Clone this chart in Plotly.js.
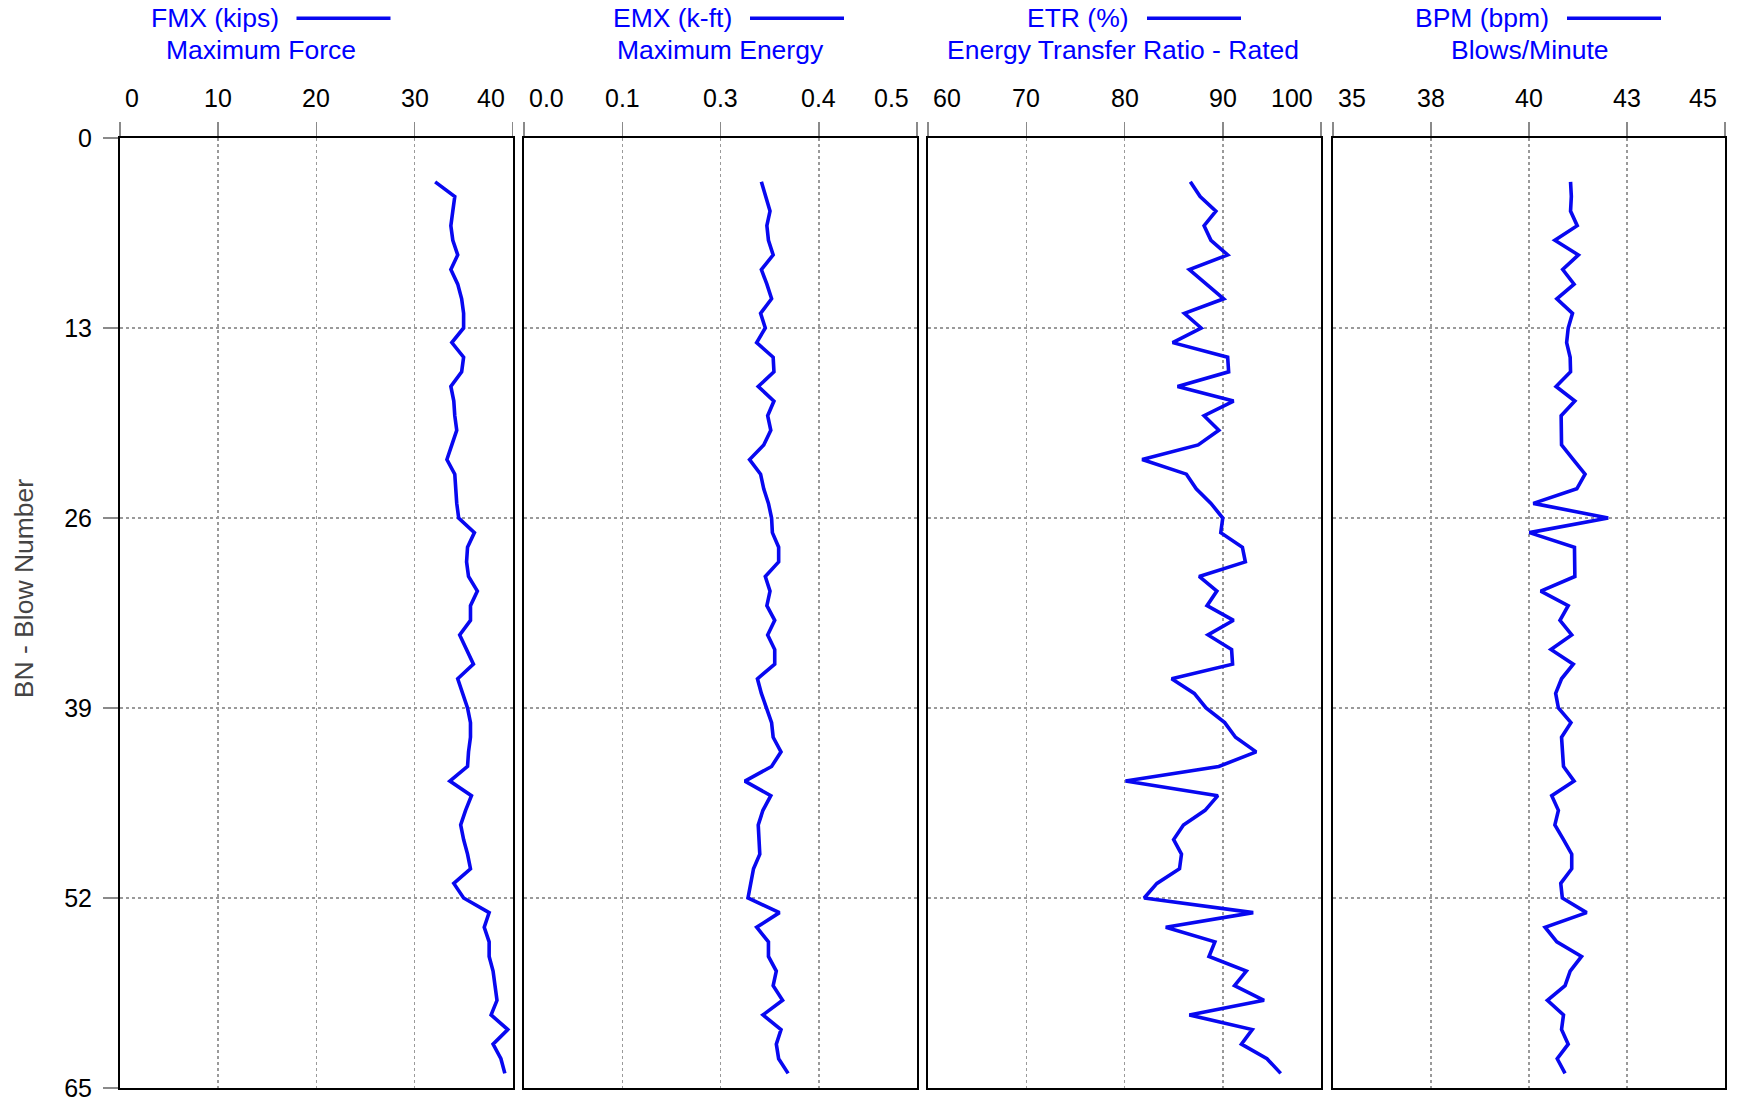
<!DOCTYPE html>
<html>
<head>
<meta charset="utf-8">
<script src="https://cdn.plot.ly/plotly-3.0.1.min.js"></script>
<style>html,body{margin:0;padding:0;background:#fff;}#chart{width:1739px;height:1101px;}</style>
</head>
<body>
<div id="chart"></div>
<script>
// ---- data ----
var blowNumber = [3,4,5,6,7,8,9,10,11,12,13,14,15,16,17,18,19,20,21,22,23,24,25,26,27,28,29,30,31,32,33,34,35,36,37,38,39,40,41,42,43,44,45,46,47,48,49,50,51,52,53,54,55,56,57,58,59,60,61,62,63,64];
var fmx = [32.1,34.1,33.9,33.7,33.9,34.4,33.7,34.4,34.8,35.0,35.0,33.8,35.0,34.8,33.7,34.0,34.1,34.3,33.8,33.3,34.1,34.2,34.3,34.5,36.1,35.4,35.3,35.5,36.4,35.7,35.7,34.6,35.3,36.0,34.4,34.9,35.4,35.7,35.7,35.5,35.4,33.6,35.8,35.2,34.7,35.0,35.4,35.7,34.0,35.0,37.6,37.1,37.6,37.6,38.0,38.2,38.4,37.8,39.5,38.0,38.8,39.2];
var emx = [0.302,0.307,0.313,0.309,0.311,0.317,0.302,0.309,0.315,0.301,0.307,0.296,0.317,0.318,0.298,0.318,0.310,0.314,0.305,0.287,0.301,0.305,0.311,0.315,0.316,0.324,0.324,0.307,0.313,0.309,0.319,0.310,0.319,0.319,0.297,0.302,0.308,0.315,0.317,0.327,0.315,0.281,0.314,0.304,0.298,0.299,0.300,0.292,0.288,0.285,0.325,0.296,0.311,0.311,0.321,0.317,0.329,0.304,0.327,0.321,0.324,0.336];
var etr = [86.7,87.7,89.3,88.1,88.8,90.5,86.6,88.3,90.1,86.1,87.8,84.9,90.5,90.6,85.4,91.1,88.1,89.6,87.5,81.8,86.3,87.3,88.8,90.0,89.8,92.0,92.3,87.6,89.4,88.4,91.1,88.5,90.9,91.0,84.8,87.1,88.3,90.2,91.3,93.4,89.6,80.1,89.5,88.2,86.0,85.0,85.8,85.6,83.3,82.0,93.1,84.2,89.2,88.6,92.4,91.2,94.2,86.6,93.0,91.9,94.5,95.9];
var bpm = [41.06,41.08,41.06,41.23,40.66,41.26,40.86,41.15,40.71,41.11,41.00,40.96,41.05,41.06,40.69,41.17,40.82,40.82,40.83,41.13,41.43,41.22,40.11,42.02,40.01,41.16,41.16,41.17,40.30,41.00,40.79,41.09,40.56,41.13,40.83,40.68,40.75,41.07,40.83,40.85,40.88,41.15,40.58,40.75,40.66,40.88,41.09,41.09,40.81,40.85,41.47,40.41,40.71,41.34,41.05,40.92,40.47,40.88,40.83,41.00,40.72,40.92];

var seriesNames = ['FMX (kips)', 'EMX (k-ft)', 'ETR (%)', 'BPM (bpm)'];
var seriesDescriptions = ['Maximum Force', 'Maximum Energy', 'Energy Transfer Ratio - Rated', 'Blows/Minute'];

var fmxTicks = [0, 10, 20, 30, 40];
var fmxTickText = ['0', '10', '20', '30', '40'];
var emxTicks = [0, 0.125, 0.25, 0.375, 0.5];
var emxTickText = ['0.0', '0.1', '0.3', '0.4', '0.5'];
var etrTicks = [60, 70, 80, 90, 100];
var etrTickText = ['60', '70', '80', '90', '100'];
var bpmTicks = [35, 37.5, 40, 42.5, 45];
var bpmTickText = ['35', '38', '40', '43', '45'];

var bnTicks = [0, 13, 26, 39, 52, 65];
var bnTickText = ['0', '13', '26', '39', '52', '65'];
var yTitle = 'BN - Blow Number';

// ---- layout helpers ----
var W = 1739, H = 1101;
var L = 120, R = 1725, T = 137.5, B = 1088;
var PW = R - L, PH = B - T;
function px2x(p) { return (p - L) / PW; }
function px2y(p) { return (B - p) / PH; }

var panelPx = [[120, 512.7], [524, 917], [928, 1321], [1333, 1725]];
var values = [fmx, emx, etr, bpm];
var ticks = [fmxTicks, emxTicks, etrTicks, bpmTicks];
var tickTexts = [fmxTickText, emxTickText, etrTickText, bpmTickText];
var titleRightPx = [279.5, 733, 1130, 1550];
var descCenterPx = [261, 720.5, 1123.3, 1530];

var FONT = 'Liberation Sans, Arial, Helvetica, sans-serif';
var BLUE = '#0000ff';
var LINE_BLUE = '#0808f0';

var traces = [];
var layout = {
  width: W, height: H,
  margin: {l: L, r: W - R, t: T, b: H - B, pad: 0},
  paper_bgcolor: '#ffffff', plot_bgcolor: '#ffffff',
  showlegend: false,
  font: {family: FONT, size: 25, color: '#000'},
  annotations: [], shapes: []
};

for (var i = 0; i < 4; i++) {
  var sfx = i === 0 ? '' : String(i + 1);
  traces.push({
    type: 'scatter', mode: 'lines',
    x: values[i], y: blowNumber,
    xaxis: 'x' + sfx, yaxis: 'y' + sfx,
    line: {color: LINE_BLUE, width: 3.6},
    name: seriesNames[i], hoverinfo: 'skip'
  });
  var tv = ticks[i];
  layout['xaxis' + sfx] = {
    domain: [px2x(panelPx[i][0]), px2x(panelPx[i][1])],
    anchor: 'y' + sfx, side: 'top',
    range: [tv[0], tv[tv.length - 1]],
    tickmode: 'array', tickvals: tv, showticklabels: false,
    ticks: 'outside', ticklen: 14, tickwidth: 1.5, tickcolor: '#8a8a8a',
    showline: true, linecolor: '#000', linewidth: 2, mirror: true,
    showgrid: true, gridcolor: '#9a9a9a', gridwidth: 1.5, griddash: 'dot',
    zeroline: false, fixedrange: true
  };
  layout['yaxis' + sfx] = {
    domain: [0, 1], anchor: 'x' + sfx,
    range: [65, 0], autorange: false,
    tickmode: 'array', tickvals: bnTicks, ticktext: bnTickText,
    showticklabels: i === 0, ticklabeloverflow: 'allow', ticklabelstandoff: 6,
    ticks: i === 0 ? 'outside' : '', ticklen: 15, tickwidth: 1.5, tickcolor: '#8a8a8a',
    tickfont: {family: FONT, size: 25, color: '#000'},
    showline: true, linecolor: '#000', linewidth: 2, mirror: true,
    showgrid: true, gridcolor: '#9a9a9a', gridwidth: 1.5, griddash: 'dot',
    zeroline: false, fixedrange: true
  };
  // tick labels on top
  for (var k = 0; k < tv.length; k++) {
    var anchor = 'center', shift = 0;
    if (k === 0) { anchor = 'left'; shift = 4; }
    if (k === tv.length - 1) { anchor = 'right'; shift = -7; }
    layout.annotations.push({
      xref: 'x' + sfx, yref: 'paper', x: tv[k], y: 1,
      xanchor: anchor, yanchor: 'middle', xshift: shift, yshift: T - 97,
      text: tickTexts[i][k], showarrow: false, borderpad: 0,
      font: {family: FONT, size: 25, color: '#000'}
    });
  }
  // legend-like header
  layout.annotations.push({
    xref: 'paper', yref: 'paper', x: px2x(titleRightPx[i]), y: 1,
    xanchor: 'right', yanchor: 'middle', yshift: T - 17,
    text: seriesNames[i], showarrow: false, borderpad: 0,
    font: {family: FONT, size: 26.5, color: BLUE}
  });
  layout.annotations.push({
    xref: 'paper', yref: 'paper', x: px2x(descCenterPx[i]), y: 1,
    xanchor: 'center', yanchor: 'middle', yshift: T - 49.5,
    text: seriesDescriptions[i], showarrow: false, borderpad: 0,
    font: {family: FONT, size: 26.5, color: BLUE}
  });
  layout.shapes.push({
    type: 'line', xref: 'paper', yref: 'paper',
    x0: px2x(titleRightPx[i] + 17), x1: px2x(titleRightPx[i] + 111),
    y0: px2y(17.7), y1: px2y(17.7),
    line: {color: LINE_BLUE, width: 3.6}
  });
}

layout.annotations.push({
  xref: 'paper', yref: 'paper', x: px2x(24), y: px2y(588),
  xanchor: 'center', yanchor: 'middle', textangle: -90,
  text: yTitle, showarrow: false,
  font: {family: FONT, size: 26.5, color: '#444'}
});

Plotly.newPlot('chart', traces, layout, {displayModeBar: false, staticPlot: true});
</script>
</body>
</html>
